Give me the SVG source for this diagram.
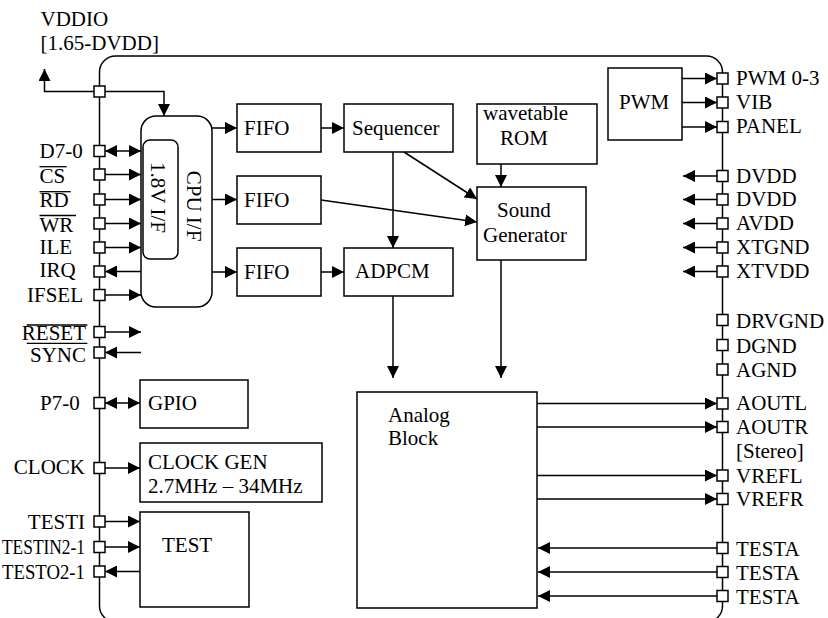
<svg xmlns="http://www.w3.org/2000/svg" width="828" height="618" viewBox="0 0 828 618">
<style>
text{font-family:"Liberation Serif","Times New Roman",serif;font-size:21px;fill:#000}
.box{fill:#fff;stroke:#000;stroke-width:1.5}
.pin{fill:#fff;stroke:#000;stroke-width:1.5}
.c{fill:none;stroke:#000;stroke-width:1.5}
.a{marker-end:url(#ah)}
.b{marker-start:url(#ah);marker-end:url(#ah)}
.ov{stroke:#000;stroke-width:1.3}
.e{text-anchor:end}
</style>
<defs>
<marker id="ah" markerUnits="userSpaceOnUse" markerWidth="12" markerHeight="12" refX="12" refY="6" orient="auto-start-reverse" viewBox="0 0 12 12">
<path d="M0,0 L12,6 L0,12 z" fill="#000"/>
</marker>
</defs>
<rect width="828" height="618" fill="#fff"/>
<g id="chip">
<rect x="99.5" y="56" width="623" height="566" rx="16" class="c"/>
</g>
<g id="connectors">
<path class="c a" d="M94,91.5 H44.5 V69"/>
<path class="c a" d="M105,91.5 H164 V116"/>
<path class="c b" d="M105,151 H141"/>
<path class="c a" d="M105,174.5 H141"/>
<path class="c a" d="M105,199.5 H141"/>
<path class="c a" d="M105,223.5 H141"/>
<path class="c a" d="M105,247.5 H141"/>
<path class="c a" d="M141,271.5 H105"/>
<path class="c a" d="M105,295 H141"/>
<path class="c a" d="M105,332 H141"/>
<path class="c a" d="M141,352.5 H105"/>
<path class="c b" d="M105,403 H140"/>
<path class="c a" d="M105,468 H140"/>
<path class="c a" d="M105,521.5 H140"/>
<path class="c a" d="M105,547 H140"/>
<path class="c a" d="M140,571.5 H105"/>
<path class="c a" d="M212,128 H237"/>
<path class="c a" d="M212,199.5 H237"/>
<path class="c a" d="M212,272 H237"/>
<path class="c a" d="M321,128 H344"/>
<path class="c a" d="M321,272 H344"/>
<path class="c a" d="M393,152 V248"/>
<path class="c a" d="M404,152 L477,199"/>
<path class="c a" d="M321,200 L477,222"/>
<path class="c a" d="M501,164 V187"/>
<path class="c a" d="M501,260 V378"/>
<path class="c a" d="M393,296 V378"/>
<path class="c a" d="M682,78.5 H717"/>
<path class="c a" d="M682,102.5 H717"/>
<path class="c a" d="M682,127 H717"/>
<path class="c a" d="M717,176 H683"/>
<path class="c a" d="M717,199.5 H683"/>
<path class="c a" d="M717,223.5 H683"/>
<path class="c a" d="M717,247.5 H683"/>
<path class="c a" d="M717,271.5 H683"/>
<path class="c a" d="M537,403.5 H717"/>
<path class="c a" d="M537,427 H717"/>
<path class="c a" d="M537,475.5 H717"/>
<path class="c a" d="M537,499 H717"/>
<path class="c a" d="M717,548 H538"/>
<path class="c a" d="M717,572 H538"/>
<path class="c a" d="M717,596 H538"/>
</g>
<g id="pins">
<rect class="pin" x="94" y="86" width="11" height="11"/>
<rect class="pin" x="94" y="145.5" width="11" height="11"/>
<rect class="pin" x="94" y="169" width="11" height="11"/>
<rect class="pin" x="94" y="194" width="11" height="11"/>
<rect class="pin" x="94" y="218" width="11" height="11"/>
<rect class="pin" x="94" y="242" width="11" height="11"/>
<rect class="pin" x="94" y="266" width="11" height="11"/>
<rect class="pin" x="94" y="289.5" width="11" height="11"/>
<rect class="pin" x="94" y="326.5" width="11" height="11"/>
<rect class="pin" x="94" y="347" width="11" height="11"/>
<rect class="pin" x="94" y="397.5" width="11" height="11"/>
<rect class="pin" x="94" y="462.5" width="11" height="11"/>
<rect class="pin" x="94" y="516" width="11" height="11"/>
<rect class="pin" x="94" y="541.5" width="11" height="11"/>
<rect class="pin" x="94" y="566" width="11" height="11"/>
<rect class="pin" x="717" y="73" width="11" height="11"/>
<rect class="pin" x="717" y="97" width="11" height="11"/>
<rect class="pin" x="717" y="121.5" width="11" height="11"/>
<rect class="pin" x="717" y="170.5" width="11" height="11"/>
<rect class="pin" x="717" y="194" width="11" height="11"/>
<rect class="pin" x="717" y="218" width="11" height="11"/>
<rect class="pin" x="717" y="242" width="11" height="11"/>
<rect class="pin" x="717" y="266" width="11" height="11"/>
<rect class="pin" x="717" y="314.5" width="11" height="11"/>
<rect class="pin" x="717" y="339.5" width="11" height="11"/>
<rect class="pin" x="717" y="364" width="11" height="11"/>
<rect class="pin" x="717" y="398" width="11" height="11"/>
<rect class="pin" x="717" y="421.5" width="11" height="11"/>
<rect class="pin" x="717" y="470" width="11" height="11"/>
<rect class="pin" x="717" y="493.5" width="11" height="11"/>
<rect class="pin" x="717" y="542.5" width="11" height="11"/>
<rect class="pin" x="717" y="566.5" width="11" height="11"/>
<rect class="pin" x="717" y="590.5" width="11" height="11"/>
</g>
<g id="pin-labels">
<text x="40.5" y="25.7">VDDIO</text>
<text x="40.5" y="50">[1.65-DVDD]</text>
<text x="39.5" y="158.3">D7-0</text>
<text x="39.5" y="183.3">CS</text>
<text x="39.5" y="207.3">RD</text>
<text x="39.5" y="231.7">WR</text>
<text x="39.5" y="254.3">ILE</text>
<text x="39.5" y="277.3">IRQ</text>
<text x="83" y="301.7" class="e">IFSEL</text>
<text x="86" y="340" class="e">RESET</text>
<text x="86" y="361.7" class="e">SYNC</text>
<text x="40" y="409.5">P7-0</text>
<text x="85" y="474.3" class="e">CLOCK</text>
<text x="85" y="529.3" class="e">TESTI</text>
<text x="2" y="554.3" textLength="83" lengthAdjust="spacingAndGlyphs">TESTIN2-1</text>
<text x="2" y="579.3" textLength="83" lengthAdjust="spacingAndGlyphs">TESTO2-1</text>
<line class="ov" x1="39.5" y1="166.7" x2="66.7" y2="166.7"/>
<line class="ov" x1="39.5" y1="191.7" x2="70.7" y2="191.7"/>
<line class="ov" x1="39.5" y1="215.5" x2="76" y2="215.5"/>
<line class="ov" x1="26.7" y1="325" x2="87.3" y2="325"/>
<line class="ov" x1="26.7" y1="343.3" x2="87.3" y2="343.3"/>
<text x="736" y="85">PWM 0-3</text>
<text x="736" y="109.3">VIB</text>
<text x="736" y="133.3">PANEL</text>
<text x="736" y="182.7">DVDD</text>
<text x="736" y="205.7">DVDD</text>
<text x="736" y="230">AVDD</text>
<text x="736" y="254.3">XTGND</text>
<text x="736" y="278.3">XTVDD</text>
<text x="736" y="328.3">DRVGND</text>
<text x="736" y="352.7">DGND</text>
<text x="736" y="376.7">AGND</text>
<text x="736" y="410">AOUTL</text>
<text x="736" y="433.5">AOUTR</text>
<text x="736" y="458.3">[Stereo]</text>
<text x="736" y="482.7">VREFL</text>
<text x="736" y="506">VREFR</text>
<text x="736" y="556">TESTA</text>
<text x="736" y="579.5">TESTA</text>
<text x="736" y="604">TESTA</text>
</g>
<g id="cpu-if">
<rect class="box" x="141" y="116" width="71" height="191" rx="15"/>
<text transform="translate(187,206) rotate(90)" text-anchor="middle">CPU I/F</text>
</g>
<g id="io-1v8">
<rect class="box" x="143" y="140" width="35" height="119" rx="7"/>
<text transform="translate(150.5,197.5) rotate(90)" text-anchor="middle">1.8V I/F</text>
</g>
<g id="fifo1"><rect class="box" x="237" y="104" width="84" height="48"/><text x="244" y="135">FIFO</text></g>
<g id="fifo2"><rect class="box" x="237" y="176" width="84" height="48"/><text x="244" y="207">FIFO</text></g>
<g id="fifo3"><rect class="box" x="237" y="248" width="84" height="48"/><text x="244" y="279">FIFO</text></g>
<g id="sequencer"><rect class="box" x="344" y="104" width="109" height="48"/><text x="352" y="135">Sequencer</text></g>
<g id="adpcm"><rect class="box" x="344" y="248" width="109" height="48"/><text x="355" y="278">ADPCM</text></g>
<g id="rom"><rect class="box" x="477" y="104" width="120" height="60"/><text x="483" y="120">wavetable</text><text x="500" y="145">ROM</text></g>
<g id="sound-generator"><rect class="box" x="477" y="187" width="109" height="73"/><text x="497" y="217">Sound</text><text x="483" y="242">Generator</text></g>
<g id="pwm"><rect class="box" x="608" y="68" width="74" height="72"/><text x="619" y="109">PWM</text></g>
<g id="analog"><rect class="box" x="357" y="392" width="180" height="216"/><text x="388" y="421.5">Analog</text><text x="388" y="445">Block</text></g>
<g id="gpio"><rect class="box" x="140" y="380" width="108" height="48"/><text x="148" y="409.5">GPIO</text></g>
<g id="clock-gen"><rect class="box" x="140" y="443" width="182" height="59"/><text x="148" y="468.5">CLOCK GEN</text><text x="148" y="493.3">2.7MHz – 34MHz</text></g>
<g id="test"><rect class="box" x="140" y="512" width="109" height="95"/><text x="162" y="552">TEST</text></g>
</svg>
